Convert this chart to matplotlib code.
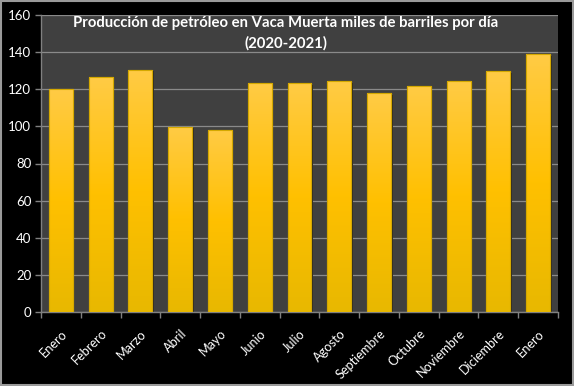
import numpy as np
import matplotlib
matplotlib.use("Agg")
import matplotlib.pyplot as plt
from matplotlib.patches import Rectangle
from matplotlib.colors import LinearSegmentedColormap

categories = ["Enero", "Febrero", "Marzo", "Abril", "Mayo", "Junio", "Julio",
              "Agosto", "Septiembre", "Octubre", "Noviembre", "Diciembre", "Enero"]
values = [120, 126.4, 130.5, 99.7, 98.1, 123.5, 123.2, 124.4, 117.8, 121.9, 124.6, 129.8, 138.8]
yticks = [0, 20, 40, 60, 80, 100, 120, 140, 160]
title = "Producción de petróleo en Vaca Muerta miles de barriles por día\n(2020-2021)"

plt.rcParams['font.family'] = ['Lato', 'DejaVu Sans']

fig = plt.figure(figsize=(5.74, 3.86), dpi=100, facecolor='black')
ax = fig.add_axes([41/574, 1-312/386, (558-41)/574, (312-15)/386])
ax.set_facecolor('#404040')

x = np.arange(len(categories))
bars = ax.bar(x, values, width=0.6, color='#FFC400', edgecolor='#C9A000', linewidth=0.8, zorder=3)

cmap = LinearSegmentedColormap.from_list('g', ['#E8B800', '#FFC000', '#FFCB45'])
grad = np.linspace(0, 1, 256).reshape(-1, 1)
for b in bars:
    x0, w, h = b.get_x(), b.get_width(), b.get_height()
    ax.add_patch(Rectangle((x0 + 0.04, 0), w, h - 0.8, facecolor='#262626', edgecolor='none', zorder=2))
    im = ax.imshow(grad, extent=[x0, x0 + w, 0, h], origin='lower', aspect='auto', cmap=cmap, zorder=3.5)
    im.set_clip_path(b)
    ax.add_patch(Rectangle((x0, 0), w, h, facecolor='none', edgecolor='#D4A800', linewidth=0.8, zorder=4))

ax.set_xlim(-0.5, len(categories) - 0.5)
ax.set_ylim(0, 160)
ax.set_yticks(yticks)
ax.set_yticklabels([str(t) for t in yticks], color='white', fontsize=9.5)
ax.set_xticks(x)
ax.set_xticklabels(categories, rotation=45, ha='right', rotation_mode='anchor', color='white', fontsize=9.2)
ax.tick_params(axis='x', length=0, pad=11)
ax.set_xticks(np.arange(-0.5, len(categories), 1), minor=True)
ax.tick_params(axis='x', which='minor', length=4, color='#808080', width=1)
ax.tick_params(axis='y', length=4, color='#808080', width=1, pad=3)
ax.grid(axis='y', color='#8a8a8a', linewidth=0.9, zorder=1)
ax.set_axisbelow(True)
for s in ['top', 'right']:
    ax.spines[s].set_visible(False)
for s in ['left', 'bottom']:
    ax.spines[s].set_color('#808080')
    ax.spines[s].set_linewidth(1)

ax.text(0.474, 0.995, title, transform=ax.transAxes, ha='center', va='top',
        color='white', fontsize=10.7, fontweight='bold', linespacing=1.45, zorder=5)

fig.patches.append(Rectangle((0.002, 0.002), 0.996, 0.995, transform=fig.transFigure,
                             facecolor='none', edgecolor='#9a9a9a', linewidth=1.5))

fig.savefig('out.png', dpi=100, facecolor='black')
